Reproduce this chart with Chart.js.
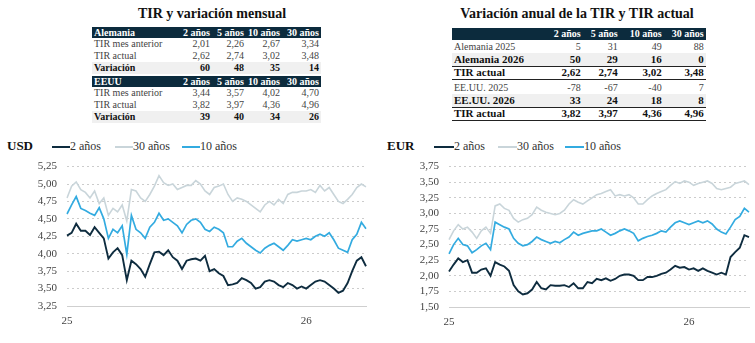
<!DOCTYPE html>
<html><head><meta charset="utf-8">
<script src="https://cdn.jsdelivr.net/npm/chart.js@4/dist/chart.umd.min.js"></script>
<style>
html,body{margin:0;padding:0;background:#fff;width:755px;height:343px;overflow:hidden;font-family:"Liberation Serif",serif;}
.abs{position:absolute;}
.title{font-weight:bold;font-size:14px;color:#111;text-align:center;white-space:nowrap;}
table{border-collapse:collapse;font-size:10px;color:#444;}
td{padding:0 2px 0 0;white-space:nowrap;text-align:right;line-height:1;}
td.l{text-align:left;padding-left:2px;}
tr.h td{background:#0c2b3d;color:#fff;font-weight:bold;}
tr.b td{font-weight:bold;color:#111;}
tr.s td{background:#f0f0f0;}
#t3 tr.b td{font-size:11px;}
.ct{font-weight:bold;font-size:13px;color:#111;}
.lg{font-size:12px;color:#333;white-space:nowrap;}
.sw{height:2px;width:18px;}
canvas{position:absolute;}
</style></head><body>
<div class="abs title" style="left:112px;top:6px;width:200px;">TIR y variación mensual</div>
<div class="abs title" style="left:447px;top:6px;width:260px;">Variación anual de la TIR y TIR actual</div>
<div id="t1" class="abs" style="left:92px;top:27px;"></div>
<div id="t2" class="abs" style="left:92px;top:76px;"></div>
<div id="t3" class="abs" style="left:452px;top:28px;"></div>

<div class="abs ct" style="left:7px;top:138px;">USD</div>
<div class="abs ct" style="left:387px;top:138px;">EUR</div>
<div id="lg1"></div><div id="lg2"></div>

<canvas id="c1" style="left:0px;top:150px;width:372px;height:190px;" width="372" height="190"></canvas>
<canvas id="c2" style="left:377px;top:150px;width:373px;height:190px;" width="373" height="190"></canvas>
<script>
// ---------- table data ----------
const tenors = ['2 años','5 años','10 años','30 años'];
const deRowLabels = ['TIR mes anterior','TIR actual','Variación'];
const dePrev = [2.01,2.26,2.67,3.34];
const deNow  = [2.62,2.74,3.02,3.48];
const deVar  = [60,48,35,14];
const usPrev = [3.44,3.57,4.02,4.70];
const usNow  = [3.82,3.97,4.36,4.96];
const usVar  = [39,40,34,26];
const annLabels = ['Alemania 2025','Alemania 2026','TIR actual','EE.UU. 2025','EE.UU. 2026','TIR actual'];
const de2025 = [5,31,49,88];
const de2026 = [50,29,16,0];
const us2025 = [-78,-67,-40,7];
const us2026 = [33,24,18,8];

// ---------- chart data (weekly) ----------
const seriesNames = ['2 años','30 años','10 años'];
const usd2  = [4.26,4.30,4.43,4.33,4.33,4.27,4.38,4.30,4.22,3.93,4.02,4.08,3.98,3.62,3.90,3.85,3.78,3.67,3.85,4.02,4.03,3.98,4.05,3.95,3.90,3.78,3.90,3.92,3.93,3.90,3.97,3.75,3.78,3.72,3.68,3.55,3.56,3.58,3.65,3.62,3.58,3.50,3.52,3.60,3.62,3.60,3.55,3.52,3.58,3.55,3.50,3.53,3.50,3.55,3.60,3.62,3.60,3.55,3.50,3.44,3.47,3.58,3.75,3.90,3.95,3.82];
const usd30 = [4.80,4.97,5.03,4.92,4.88,4.80,4.90,4.72,4.80,4.55,4.65,4.60,4.70,4.47,4.92,4.90,4.80,4.75,4.85,4.97,5.12,5.02,4.98,5.00,4.92,4.95,4.98,4.98,5.05,5.00,4.90,4.85,4.95,4.97,5.00,4.85,4.75,4.80,4.78,4.75,4.70,4.65,4.60,4.70,4.75,4.70,4.78,4.72,4.85,4.88,4.88,4.90,4.90,4.92,4.88,4.98,4.90,4.95,4.85,4.75,4.72,4.78,4.85,4.95,5.00,4.96];
const usd10 = [4.57,4.70,4.82,4.65,4.62,4.58,4.55,4.66,4.50,4.22,4.35,4.30,4.40,3.99,4.55,4.35,4.30,4.22,4.38,4.45,4.58,4.48,4.50,4.45,4.40,4.30,4.42,4.48,4.50,4.45,4.35,4.32,4.38,4.35,4.30,4.10,4.10,4.18,4.22,4.15,4.10,4.05,4.01,4.08,4.12,4.15,4.10,4.05,4.12,4.20,4.18,4.20,4.22,4.20,4.25,4.28,4.25,4.30,4.20,4.08,4.05,4.02,4.20,4.28,4.45,4.36];
const eur2  = [2.07,2.18,2.28,2.22,2.25,2.05,2.05,2.10,2.12,2.00,2.22,2.18,2.15,2.08,1.85,1.75,1.70,1.72,1.78,1.90,1.80,1.78,1.85,1.84,1.84,1.85,1.82,1.88,1.80,1.80,1.90,1.88,1.95,1.93,1.96,1.92,1.95,2.00,2.02,2.02,2.00,1.93,1.93,1.98,1.98,2.00,2.03,2.05,2.10,2.16,2.13,2.14,2.10,2.12,2.08,2.12,2.08,2.05,2.02,2.05,2.02,2.30,2.38,2.45,2.65,2.62];
const eur30 = [2.58,2.72,2.82,2.75,2.78,2.70,2.60,2.72,2.78,2.68,3.12,3.15,3.08,3.05,2.92,2.86,2.90,2.92,2.98,3.10,3.05,3.02,3.00,2.98,3.00,3.05,3.15,3.22,3.18,3.15,3.20,3.25,3.30,3.32,3.35,3.38,3.28,3.30,3.28,3.30,3.25,3.15,3.15,3.22,3.28,3.32,3.35,3.38,3.45,3.51,3.48,3.52,3.50,3.45,3.48,3.50,3.52,3.48,3.40,3.38,3.40,3.42,3.48,3.50,3.52,3.46];
const eur10 = [2.35,2.50,2.60,2.50,2.48,2.37,2.42,2.48,2.52,2.42,2.86,2.82,2.78,2.75,2.60,2.52,2.48,2.50,2.55,2.62,2.58,2.55,2.52,2.55,2.53,2.58,2.62,2.70,2.65,2.68,2.70,2.72,2.72,2.75,2.70,2.65,2.68,2.72,2.75,2.72,2.68,2.56,2.60,2.63,2.65,2.68,2.72,2.70,2.78,2.85,2.88,2.85,2.82,2.85,2.88,2.85,2.88,2.83,2.75,2.70,2.67,2.78,2.90,2.95,3.08,3.02];
const startDate = '2025-01-02';
const usdRange = [3.25, 5.25];
const eurRange = [1.50, 3.75];

// ---------- tables ----------
const f2 = v => v.toFixed(2).replace('.', ',');
const f0 = v => String(v);
const w1 = [82,32,32,34,37];
function monthTable(name, prev, now, vr){
  let h = `<table>`;
  h += `<tr class="h" style="height:11px"><td class="l" style="width:${w1[0]}px">${name}</td>` + tenors.map((t,i)=>`<td style="width:${w1[i+1]}px">${t}</td>`).join('') + `</tr>`;
  const rows = [[deRowLabels[0], prev, f2, ''],[deRowLabels[1], now, f2, ''],[deRowLabels[2], vr, f0, 'b s']];
  rows.forEach(r=>{
    h += `<tr class="${r[3]}" style="height:12px"><td class="l" style="width:${w1[0]}px">${r[0]}</td>` + r[1].map((v,i)=>`<td style="width:${w1[i+1]}px">${r[2](v)}</td>`).join('') + '</tr>';
  });
  return h + '</table>';
}
document.getElementById('t1').innerHTML = monthTable('Alemania', dePrev, deNow, deVar);
document.getElementById('t2').innerHTML = monthTable('EEUU', usPrev, usNow, usVar);

const w3 = [88.7,36,35,42,40];
(function(){
  const line = 'border-bottom:1px solid #222;';
  let h = `<table style="font-size:10px">`;
  h += `<tr class="h" style="height:12px"><td class="l" style="width:${w3[0]}px"></td>` + tenors.map((t,i)=>`<td style="width:${w3[i+1]}px">${t}</td>`).join('') + `</tr>`;
  const rows = [
    [annLabels[0], de2025, f0, '', ''],
    [annLabels[1], de2026, f0, 'b s', line],
    [annLabels[2], deNow, f2, 'b', line],
    [annLabels[3], us2025, f0, '', ''],
    [annLabels[4], us2026, f0, 'b s', line],
    [annLabels[5], usNow, f2, 'b', line]
  ];
  rows.forEach((r,k)=>{
    const hgt = (k===3) ? 15 : 13;
    const extra = k===3 ? 'padding-top:2px;' : '';
    h += `<tr class="${r[3]}" style="height:${hgt}px"><td class="l" style="width:${w3[0]}px;${r[4]}${extra}">${r[0]}</td>` +
      r[1].map((v,i)=>`<td style="width:${w3[i+1]}px;${r[4]}${extra}">${r[2](v)}</td>`).join('') + '</tr>';
  });
  document.getElementById('t3').innerHTML = h + '</table>';
})();

// ---------- charts ----------
const colors = ['#0e2c3f','#c9d5da','#33abe0'];
const widths = [1.9,1.6,1.7];

function weekLabels(n){
  const out = []; const d0 = new Date(startDate + 'T00:00:00Z');
  for (let i=0;i<n;i++){ const d = new Date(d0.getTime() + i*7*86400000); out.push(d.toISOString().slice(0,10)); }
  return out;
}

function legend(el, items){
  let h = '';
  items.forEach((it,i)=>{
    h += `<div class="abs sw" style="left:${it[0]}px;top:146px;width:${it[1]-it[0]}px;background:${colors[i]}"></div>`;
    h += `<div class="abs lg" style="left:${it[1]}px;top:139px;">${seriesNames[i]}</div>`;
  });
  document.getElementById(el).innerHTML = h;
}
legend('lg1', [[52,70],[115,133],[182,200]]);
legend('lg2', [[434,454],[498,517],[565,584]]);

function makeChart(id, data, range, yW, pad){
  const labels = weekLabels(data[0].length);
  new Chart(document.getElementById(id), {
    type:'line',
    data:{ labels, datasets: data.map((d,i)=>({label:seriesNames[i], data:d, borderColor:colors[i], borderWidth:widths[i], pointRadius:0, tension:0, fill:false})) },
    options:{
      responsive:false, animation:false, devicePixelRatio:1,
      layout:{padding:pad},
      plugins:{legend:{display:false}, tooltip:{enabled:false}},
      scales:{
        x:{ grid:{display:false, drawTicks:false}, border:{display:true, color:'#cfcfcf', width:1},
            afterFit:s=>{s.height=25;},
            ticks:{ autoSkip:false, maxRotation:0, padding:9, color:'#444', font:{family:'Liberation Serif', size:11},
              callback:(v,i)=>{ const y = labels[i].slice(2,4); const prev = i>0 ? labels[i-1].slice(2,4) : null; return (y!==prev) ? y : null; } } },
        y:{ min:range[0], max:range[1], grid:{color:'#cccccc', drawTicks:false, lineWidth:1},
            border:{display:false, dash:[2,3]},
            afterFit:s=>{s.width=yW;},
            ticks:{ stepSize:0.25, autoSkip:false, padding:10, color:'#444', font:{family:'Liberation Serif', size:11},
              callback:v=>v.toFixed(2).replace('.',',') } }
      }
    }
  });
}
makeChart('c1', [usd2, usd30, usd10], usdRange, 67, {top:8, bottom:9, left:0, right:6});
makeChart('c2', [eur2, eur30, eur10], eurRange, 72, {top:9, bottom:8, left:0, right:1});
</script>
</body></html>
